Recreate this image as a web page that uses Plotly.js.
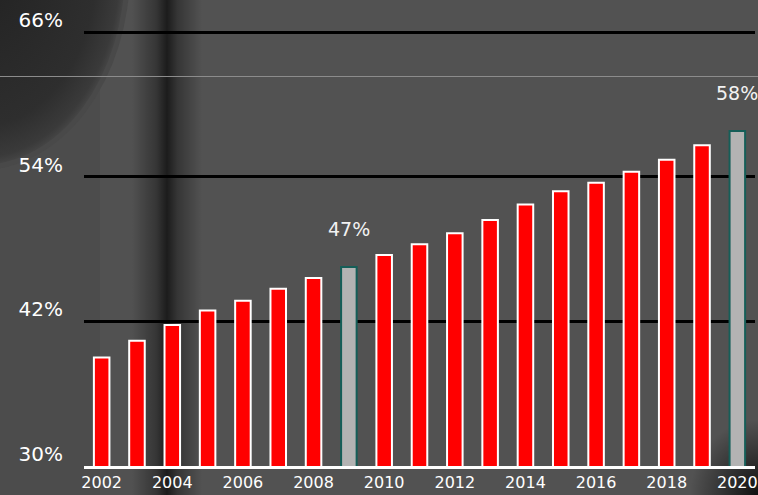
<!DOCTYPE html>
<html>
<head>
<meta charset="utf-8">
<script src="https://cdn.plot.ly/plotly-3.0.1.min.js"></script>
<style>html,body{margin:0;padding:0;background:#525252;}#chart{width:758px;height:495px;}</style>
</head>
<body>
<div id="chart"></div>
<script>
// Data
var years = [2002, 2003, 2004, 2005, 2006, 2007, 2008, 2009, 2010, 2011, 2012, 2013, 2014, 2015, 2016, 2017, 2018, 2019, 2020];
var shares = [39.0, 40.4, 41.7, 42.9, 43.7, 44.7, 45.6, 46.5, 47.5, 48.4, 49.3, 50.4, 51.7, 52.8, 53.5, 54.4, 55.4, 56.6, 57.8];
var highlightYears = [2009, 2020];
var yTickVals = [30, 42, 54, 66];
var yTickText = ['30%', '42%', '54%', '66%'];
var xTickVals = [2002, 2004, 2006, 2008, 2010, 2012, 2014, 2016, 2018, 2020];

var fillColors = years.map(function (y) { return highlightYears.indexOf(y) >= 0 ? '#b3b3b3' : '#ff0000'; });
var lineColors = years.map(function (y) { return highlightYears.indexOf(y) >= 0 ? '#155e58' : '#ffffff'; });

var W = 758, H = 495, mL = 84, mR = 3, mT = 26, mB = 29;
var pw = W - mL - mR, ph = H - mT - mB;
var FONT = 'DejaVu Sans, Verdana, sans-serif';

var bgSvg = '<svg xmlns="http://www.w3.org/2000/svg" width="758" height="495" viewBox="0 0 758 495">' +
  '<defs>' +
  '<linearGradient id="band" x1="0" x2="1" y1="0" y2="0">' +
  '<stop offset="0" stop-color="#000" stop-opacity="0"/>' +
  '<stop offset="0.35" stop-color="#000" stop-opacity="0.35"/>' +
  '<stop offset="0.5" stop-color="#000" stop-opacity="0.66"/>' +
  '<stop offset="0.65" stop-color="#000" stop-opacity="0.35"/>' +
  '<stop offset="1" stop-color="#000" stop-opacity="0"/>' +
  '</linearGradient>' +
  '<radialGradient id="circ" cx="0.5" cy="0.5" r="0.5">' +
  '<stop offset="0" stop-color="#222"/>' +
  '<stop offset="0.8" stop-color="#2e2e2e"/>' +
  '<stop offset="0.96" stop-color="#3a3a3a"/>' +
  '<stop offset="1" stop-color="#444"/>' +
  '</radialGradient>' +
  '<radialGradient id="corner" cx="1" cy="1" r="1">' +
  '<stop offset="0" stop-color="#000" stop-opacity="0.8"/>' +
  '<stop offset="1" stop-color="#000" stop-opacity="0"/>' +
  '</radialGradient>' +
  '</defs>' +
  '<rect x="0" y="0" width="758" height="495" fill="#525252"/>' +
  '<rect x="0" y="0" width="150" height="495" fill="#4c4c4c"/>' +
  '<rect x="100" y="0" width="50" height="495" fill="#555" opacity="0.6"/>' +
  '<ellipse cx="-20" cy="-30" rx="150" ry="200" fill="#494949"/>' +
  '<ellipse cx="-20" cy="-30" rx="145" ry="195" fill="url(#circ)"/>' +
  '<rect x="132" y="0" width="70" height="495" fill="url(#band)"/>' +
  '<rect x="690" y="420" width="68" height="75" fill="url(#corner)"/>' +
  '<line x1="0" y1="76.5" x2="758" y2="76.5" stroke="#8c8c8c" stroke-width="1"/>' +
  '</svg>';
var bgUrl = 'data:image/svg+xml;charset=utf-8,' + encodeURIComponent(bgSvg);

var trace = {
  type: 'bar',
  x: years,
  y: shares,
  marker: { color: fillColors, line: { color: lineColors, width: 2 } },
  hoverinfo: 'x+y'
};

var annotations = highlightYears.map(function (y) {
  var v = shares[years.indexOf(y)];
  return {
    x: y, y: v, xref: 'x', yref: 'y',
    text: Math.round(v) + '%',
    showarrow: false, yshift: 38,
    font: { family: FONT, size: 19, color: '#f2f2f2' }
  };
});

var layout = {
  width: W, height: H,
  margin: { l: mL, r: mR, t: mT, b: mB, pad: 0 },
  paper_bgcolor: '#525252',
  plot_bgcolor: 'rgba(0,0,0,0)',
  showlegend: false,
  bargap: 0.56,
  font: { family: FONT, color: '#ffffff' },
  images: [{
    source: bgUrl, xref: 'paper', yref: 'paper',
    x: -mL / pw, y: 1 + mT / ph, sizex: W / pw, sizey: H / ph,
    xanchor: 'left', yanchor: 'top', sizing: 'stretch', layer: 'below'
  }],
  xaxis: {
    type: 'linear', range: [2001.5, 2020.5],
    tickmode: 'array', tickvals: xTickVals,
    showgrid: false, zeroline: false,
    showline: true, linecolor: '#ffffff', linewidth: 3,
    ticks: '', tickfont: { size: 16, color: '#ffffff' },
    fixedrange: true
  },
  yaxis: {
    range: [30, 66.5],
    tickmode: 'array', tickvals: yTickVals, ticktext: yTickText,
    showgrid: true, gridcolor: '#000000', gridwidth: 3,
    zeroline: false, showline: false, ticks: '',
    ticklabelstandoff: 20, ticklabelshift: -12,
    tickfont: { size: 20, color: '#ffffff' },
    fixedrange: true
  },
  annotations: annotations
};

Plotly.newPlot('chart', [trace], layout, { displayModeBar: false, staticPlot: true });
</script>
</body>
</html>
